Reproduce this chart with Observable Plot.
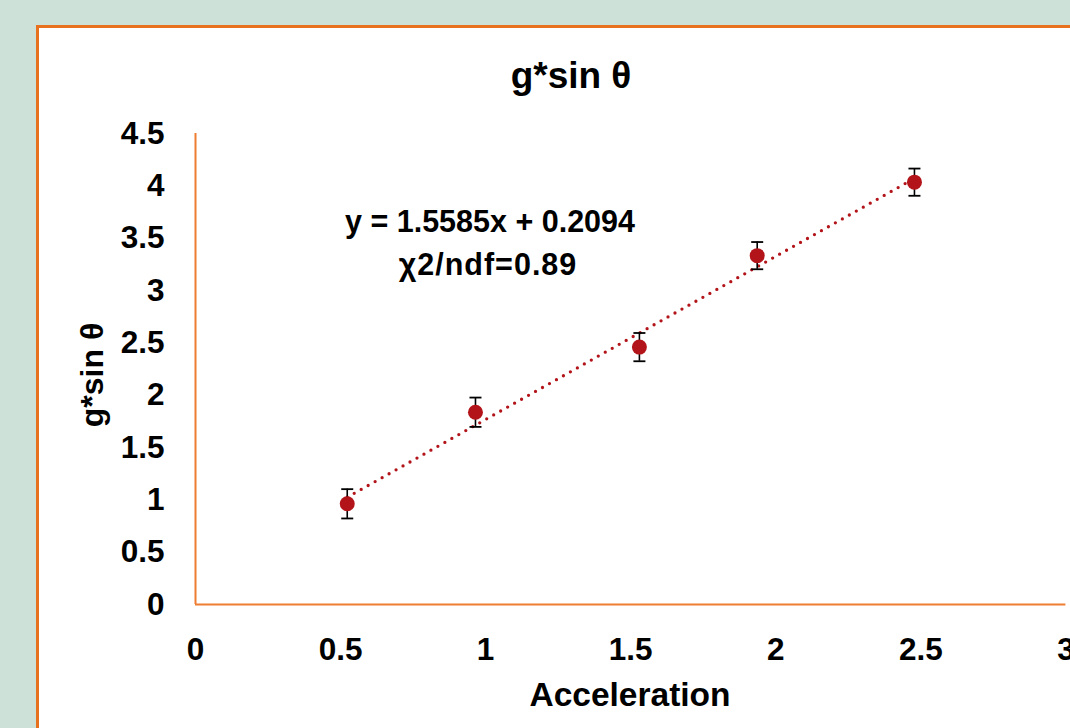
<!DOCTYPE html>
<html>
<head>
<meta charset="utf-8">
<script src="https://cdn.jsdelivr.net/npm/d3@7"></script>
<script src="https://cdn.jsdelivr.net/npm/@observablehq/plot@0.6"></script>
<style>
  html, body { margin: 0; padding: 0; width: 1070px; height: 728px; overflow: hidden; background: #CEE1D8; }
  #wrap { position: relative; width: 1070px; height: 728px; font-family: "Liberation Sans", Arial, sans-serif; font-weight: bold; color: #000; }
  #frame { position: absolute; left: 36px; top: 25px; width: 1100px; height: 800px; background: #fff; border: 3px solid #E8711F; box-sizing: border-box; }
  #chart { position: absolute; left: 0; top: 0; }
  .t { position: absolute; white-space: nowrap; line-height: 1; }
</style>
</head>
<body>
<div id="wrap">
  <div id="frame"></div>
  <div id="chart"></div>
  <div class="t" id="title" style="font-size:37px; left:571px; top:57px; transform:translateX(-50%);">g*sin θ</div>
  <div class="t" id="ylab" style="font-size:32px; left:92px; top:375px; transform:translate(-50%,-50%) rotate(-90deg);">g*sin θ</div>
  <div class="t" id="xlab" style="font-size:33.5px; left:630px; top:678px; transform:translateX(-50%);">Acceleration</div>
  <div class="t" id="eq1" style="font-size:30.5px; left:490px; top:206px; transform:translateX(-50%);">y = 1.5585x + 0.2094</div>
  <div class="t" id="eq2" style="font-size:30.5px; left:488px; top:249px; transform:translateX(-50%); letter-spacing:1px;">χ2/ndf=0.89</div>
</div>
<script>
// Data
const accel = [0.523, 0.965, 1.530, 1.936, 2.478];
const gsin  = [0.962, 1.837, 2.459, 3.333, 4.035];
const errs  = [0.14, 0.14, 0.135, 0.13, 0.13];
const slope = 1.5585;
const intercept = 0.2094;
const xTicks = [0, 0.5, 1, 1.5, 2, 2.5, 3];
const yTicks = [0, 0.5, 1, 1.5, 2, 2.5, 3, 3.5, 4, 4.5];

const data = accel.map((x, i) => ({x, y: gsin[i], e: errs[i]}));
const xs = [d3.min(accel), d3.max(accel)];
const trend = xs.map(x => ({x, y: slope * x + intercept}));

const cap = { draw(ctx) { ctx.moveTo(-6, 0); ctx.lineTo(6, 0); } };
const red = "#B2141A";
const orange = "#ED7D31";

const chart = Plot.plot({
  width: 1070,
  height: 728,
  marginLeft: 195,
  marginRight: 4.6,
  marginTop: 133,
  marginBottom: 124,
  x: {domain: [0, 3]},
  y: {domain: [0, 4.5]},
  style: {background: "transparent", fontFamily: "'Liberation Sans', Arial, sans-serif", color: "#000", overflow: "visible"},
  marks: [
    Plot.axisX({ticks: xTicks, tickSize: 0, tickPadding: 33, tickFormat: d => String(d), fontSize: 31.5, fontWeight: "bold", label: null}),
    Plot.axisY({ticks: yTicks, tickSize: 0, tickPadding: 31, tickFormat: d => String(d), fontSize: 31.5, fontWeight: "bold", label: null}),
    Plot.ruleX([0], {stroke: orange, strokeWidth: 2}),
    Plot.ruleY([0], {stroke: orange, strokeWidth: 2}),
    Plot.line(trend, {x: "x", y: "y", stroke: red, strokeWidth: 3.3, strokeDasharray: "0 8", strokeLinecap: "round"}),
    Plot.ruleX(data, {x: "x", y1: d => d.y - d.e, y2: d => d.y + d.e, stroke: "#000", strokeWidth: 1.6}),
    Plot.dot(data, {x: "x", y: d => d.y + d.e, symbol: cap, stroke: "#000", strokeWidth: 1.8, r: 6}),
    Plot.dot(data, {x: "x", y: d => d.y - d.e, symbol: cap, stroke: "#000", strokeWidth: 1.8, r: 6}),
    Plot.dot(data, {x: "x", y: "y", r: 7.5, fill: red, stroke: null})
  ]
});
document.getElementById("chart").appendChild(chart);
</script>
</body>
</html>
